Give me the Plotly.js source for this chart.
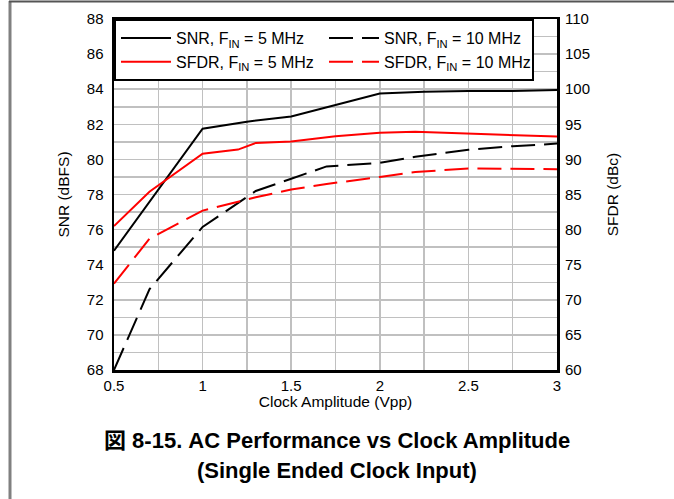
<!DOCTYPE html>
<html>
<head>
<meta charset="utf-8">
<script src="https://cdn.plot.ly/plotly-3.0.1.min.js"></script>
<style>
html,body{margin:0;padding:0;background:#fff;}
#chart{width:674px;height:499px;}
</style>
</head>
<body>
<div id="chart"></div>
<script>
// ---- data ----
var xSnr5 = [0.5, 0.7, 1.0, 1.25, 1.5, 1.75, 2.0, 2.25, 2.5, 2.75, 3.0];
var snr5  = [74.8, 77.6, 81.75, 82.15, 82.45, 83.1, 83.75, 83.85, 83.9, 83.9, 83.95];

var xSnr10 = [0.5, 0.7, 1.0, 1.3, 1.5, 1.7, 2.0, 2.2, 2.5, 2.75, 3.0];
var snr10  = [68.0, 72.6, 76.15, 78.2, 78.9, 79.6, 79.8, 80.15, 80.55, 80.75, 80.9];

var xSfdr5 = [0.5, 0.7, 1.0, 1.2, 1.3, 1.5, 1.75, 2.0, 2.2, 2.5, 2.75, 3.0];
var sfdr5  = [80.5, 85.4, 90.8, 91.4, 92.35, 92.55, 93.3, 93.8, 93.95, 93.7, 93.45, 93.25];

var xSfdr10 = [0.5, 0.7, 1.0, 1.3, 1.5, 1.7, 2.0, 2.2, 2.5, 2.75, 3.0];
var sfdr10  = [72.3, 78.7, 82.7, 84.6, 85.7, 86.5, 87.5, 88.2, 88.7, 88.6, 88.6];

var seriesNames = [
  'SNR, F<sub>IN</sub> = 5 MHz',
  'SNR, F<sub>IN</sub> = 10 MHz',
  'SFDR, F<sub>IN</sub> = 5 MHz',
  'SFDR, F<sub>IN</sub> = 10 MHz'
];
var titleLines = ['図 8-15. AC Performance vs Clock Amplitude', '(Single Ended Clock Input)'];
var xTitle = 'Clock Amplitude (Vpp)';
var yTitle = 'SNR (dBFS)';
var y2Title = 'SFDR (dBc)';

var xRange = [0.5, 3];
var yRange = [68, 88];
var y2Range = [60, 110];

var FONT = 'Arial, "Liberation Sans", "Noto Sans CJK JP", sans-serif';
var DASH = '24px,9px';
var GRID = '#c0c0c0';

var traces = [
  {x: xSnr5, y: snr5, name: seriesNames[0], mode: 'lines', yaxis: 'y',
   line: {color: '#000000', width: 2}},
  {x: xSnr10, y: snr10, name: seriesNames[1], mode: 'lines', yaxis: 'y',
   line: {color: '#000000', width: 2, dash: DASH}},
  {x: xSfdr5, y: sfdr5, name: seriesNames[2], mode: 'lines', yaxis: 'y2',
   line: {color: '#ff0000', width: 2}},
  {x: xSfdr10, y: sfdr10, name: seriesNames[3], mode: 'lines', yaxis: 'y2',
   line: {color: '#ff0000', width: 2, dash: DASH}}
];

var layout = {
  width: 674, height: 499,
  margin: {l: 114, r: 117, t: 19, b: 129, pad: 0},
  paper_bgcolor: '#ffffff', plot_bgcolor: 'rgba(0,0,0,0)',
  font: {family: FONT, size: 15, color: '#000'},
  showlegend: true,
  hovermode: false,
  legend: {
    x: 0, y: 1, xanchor: 'left', yanchor: 'top',
    orientation: 'h', entrywidth: 143, itemwidth: 50,
    bgcolor: '#ffffff', bordercolor: '#000000', borderwidth: 2,
    font: {family: FONT, size: 16, color: '#000'},
    tracegroupgap: 0
  },
  xaxis: {
    range: xRange, dtick: 0.5, tick0: 0.5,
    showgrid: true, gridcolor: GRID, gridwidth: 1.5,
    minor: {dtick: 0.25, showgrid: true, gridcolor: GRID, gridwidth: 1.5},
    showline: true, linecolor: '#000', linewidth: 2.5, mirror: true,
    ticks: '', zeroline: false,
    tickfont: {family: FONT, size: 15},
    title: {text: xTitle, font: {family: FONT, size: 15.5}, standoff: 2}
  },
  yaxis: {
    range: yRange, dtick: 2, tick0: 68,
    showgrid: true, gridcolor: GRID, gridwidth: 1.5,
    minor: {dtick: 1, showgrid: true, gridcolor: GRID, gridwidth: 1.5},
    showline: true, linecolor: '#000', linewidth: 2.5, mirror: true,
    ticks: '', zeroline: false, ticklabelstandoff: 5,
    tickfont: {family: FONT, size: 15},
    title: {text: yTitle, font: {family: FONT, size: 15.5}, standoff: 14}
  },
  yaxis2: {
    range: y2Range, dtick: 5, tick0: 60,
    overlaying: 'y', side: 'right',
    showgrid: false, zeroline: false, showline: false,
    ticks: '', ticklabelstandoff: 7,
    tickfont: {family: FONT, size: 15},
    title: {text: y2Title, font: {family: FONT, size: 15.5}, standoff: 18}
  },
  annotations: [
    {xref: 'paper', yref: 'paper', x: 0.503, y: (370 - 440) / 351,
     text: '<b>' + titleLines[0] + '</b>', showarrow: false,
     xanchor: 'center', yanchor: 'middle',
     font: {family: FONT, size: 22, color: '#000'}},
    {xref: 'paper', yref: 'paper', x: 0.503, y: (370 - 470) / 351,
     text: '<b>' + titleLines[1] + '</b>', showarrow: false,
     xanchor: 'center', yanchor: 'middle',
     font: {family: FONT, size: 22, color: '#000'}}
  ],
  shapes: [
    {type: 'line', xref: 'paper', yref: 'paper',
     x0: (10 - 114) / 443, x1: (10 - 114) / 443,
     y0: (370 - 1) / 351, y1: (370 - 499) / 351,
     line: {color: '#808080', width: 3}},
    {type: 'line', xref: 'paper', yref: 'paper',
     x0: (9 - 114) / 443, x1: (674 - 114) / 443,
     y0: (370 - 1.5) / 351, y1: (370 - 1.5) / 351,
     line: {color: '#555555', width: 2}}
  ]
};

Plotly.newPlot('chart', traces, layout, {displayModeBar: false, staticPlot: true});
</script>
</body>
</html>
